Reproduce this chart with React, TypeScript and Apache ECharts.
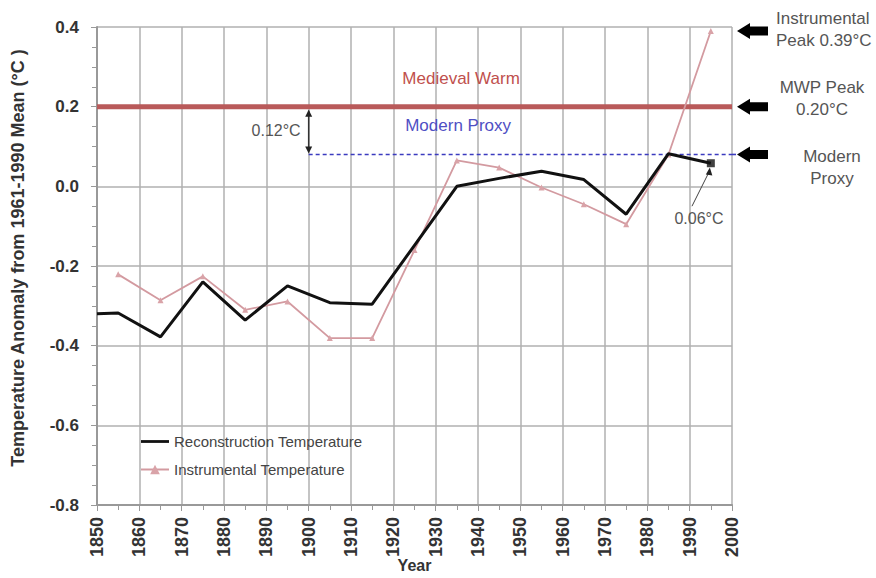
import React, { useEffect, useRef } from "react";
import * as echarts from "echarts";

const reconYears = [1850, 1855, 1865, 1875, 1885, 1895, 1905, 1915, 1925, 1935, 1945, 1955, 1965, 1975, 1985, 1995];
const reconValues = [-0.32, -0.318, -0.378, -0.24, -0.336, -0.25, -0.292, -0.296, -0.148, 0.0, 0.02, 0.038, 0.017, -0.07, 0.082, 0.058];
const instYears = [1855, 1865, 1875, 1885, 1895, 1905, 1915, 1925, 1935, 1945, 1955, 1965, 1975, 1985, 1995];
const instValues = [-0.221, -0.286, -0.226, -0.31, -0.289, -0.381, -0.381, -0.16, 0.065, 0.047, -0.003, -0.045, -0.095, 0.08, 0.39];

const xMin = 1850;
const xMax = 2000;
const xStep = 10;
const yMin = -0.8;
const yMax = 0.4;
const yStep = 0.2;

const mwpPeak = 0.2;
const modernProxy = 0.08;
const instPeak = 0.39;
const modernEnd = 0.06;
const proxyStartYear = 1900;

const FONT = "'Liberation Sans', Arial, sans-serif";

export default function App() {
  const ref = useRef<HTMLDivElement>(null);
  useEffect(() => {
    const chart = echarts.init(ref.current!, null, { renderer: "svg" });
    chart.setOption({
      animation: false,
      backgroundColor: "#ffffff",
      grid: { left: 97, right: 144, top: 27, bottom: 73, outerBoundsMode: "none", containLabel: false },
      legend: {
        orient: "vertical",
        left: 135,
        top: 429,
        itemWidth: 28,
        itemHeight: 12,
        itemGap: 13,
        textStyle: { fontSize: 15, color: "#444", fontFamily: FONT },
        data: [
          { name: "Reconstruction Temperature", icon: "path://M0 0H30V3H0Z" },
          { name: "Instrumental Temperature" },
        ],
      },
      xAxis: {
        type: "value",
        min: xMin,
        max: xMax,
        interval: xStep,
        name: "Year",
        nameLocation: "middle",
        nameGap: 52,
        nameMoveOverlap: false,
        nameTextStyle: { fontSize: 16, fontWeight: "bold", color: "#333", fontFamily: FONT },
        axisLine: { show: true, onZero: false, lineStyle: { color: "#999", width: 2 } },
        axisTick: { show: true, length: 6, lineStyle: { color: "#999" } },
        minorTick: { show: true, splitNumber: 2, length: 5, lineStyle: { color: "#999" } },
        splitLine: { show: true, lineStyle: { color: "#b0b0b0", width: 1.5 } },
        axisLabel: {
          rotate: 90,
          margin: 12,
          fontSize: 18,
          fontWeight: "bold",
          color: "#333",
          fontFamily: FONT,
          formatter: (v: number) => String(v),
        },
      },
      yAxis: {
        type: "value",
        min: yMin,
        max: yMax,
        interval: yStep,
        axisLine: { show: true, onZero: false, lineStyle: { color: "#999", width: 2 } },
        axisTick: { show: true, length: 6, lineStyle: { color: "#999" } },
        minorTick: { show: true, splitNumber: 4, length: 5, lineStyle: { color: "#999" } },
        splitLine: { show: true, lineStyle: { color: "#b0b0b0", width: 1.5 } },
        axisLabel: {
          margin: 18,
          fontSize: 17,
          fontWeight: "bold",
          color: "#333",
          fontFamily: FONT,
          formatter: (v: number) => v.toFixed(1),
        },
      },
      series: [
        {
          name: "MWP",
          type: "line",
          data: [[xMin, mwpPeak], [xMax, mwpPeak]],
          symbol: "none",
          silent: true,
          lineStyle: { color: "#b95a5a", width: 5 },
          z: 1,
        },
        {
          name: "Modern Proxy Line",
          type: "line",
          data: [[proxyStartYear, modernProxy], [xMax, modernProxy]],
          symbol: "none",
          silent: true,
          lineStyle: { color: "#3b3bbf", width: 1.6, type: [4, 3] },
          z: 1,
        },
        {
          name: "Instrumental Temperature",
          type: "line",
          data: instYears.map((y, i) => [y, instValues[i]]),
          symbol: "triangle",
          symbolSize: 6,
          itemStyle: { color: "#d9a3a8" },
          lineStyle: { color: "#d39aa0", width: 1.8 },
          z: 2,
        },
        {
          name: "Reconstruction Temperature",
          type: "line",
          data: reconYears.map((y, i) => [y, reconValues[i]]),
          symbol: "none",
          itemStyle: { color: "#111" },
          lineStyle: { color: "#111", width: 3 },
          z: 3,
        },
        {
          name: "end",
          type: "scatter",
          data: [[reconYears[reconYears.length - 1], reconValues[reconValues.length - 1]]],
          symbol: "rect",
          symbolSize: 8,
          itemStyle: { color: "#111" },
          z: 4,
        },
      ],
    });

    const px = (x: number, y: number) => chart.convertToPixel({ gridIndex: 0 }, [x, y]) as number[];
    const g: any[] = [];
    const txt = (x: number, y: number, text: string, opts: any = {}) => ({
      type: "text",
      x,
      y,
      style: {
        text,
        fontSize: 17,
        fontFamily: FONT,
        fill: "#555",
        align: "center",
        verticalAlign: "middle",
        ...opts,
      },
      z: 10,
    });

    const mw = px(1936, 0.27);
    g.push(txt(mw[0], mw[1], "Medieval Warm", { fill: "#c0504d" }));
    const mp = px(1935.3, 0.153);
    g.push(txt(mp[0], mp[1], "Modern Proxy", { fill: "#4f4fc4" }));

    // 0.12 arrow
    const a1 = px(proxyStartYear, mwpPeak);
    const a2 = px(proxyStartYear, modernProxy);
    const ax = a1[0];
    g.push({ type: "line", shape: { x1: ax, y1: a1[1] + 4, x2: ax, y2: a2[1] - 4 }, style: { stroke: "#333", lineWidth: 1.5 }, z: 10 });
    g.push({ type: "polygon", shape: { points: [[ax, a1[1] + 3], [ax - 3.5, a1[1] + 10], [ax + 3.5, a1[1] + 10]] }, style: { fill: "#222" }, z: 10 });
    g.push({ type: "polygon", shape: { points: [[ax, a2[1] - 1], [ax - 3.5, a2[1] - 8], [ax + 3.5, a2[1] - 8]] }, style: { fill: "#222" }, z: 10 });
    g.push(txt(ax - 8, (a1[1] + a2[1]) / 2, "0.12°C", { align: "right", fontSize: 16 }));

    // extension of modern proxy dashed line to arrow
    const pe = px(xMax, modernProxy);
    g.push({ type: "line", shape: { x1: pe[0], y1: pe[1], x2: pe[0] + 5, y2: pe[1] }, style: { stroke: "#3b3bbf", lineWidth: 1.6, lineDash: [4, 3] }, z: 10 });

    // 0.06 annotation
    const endPt = px(reconYears[reconYears.length - 1], modernEnd);
    const lbl = px(1992.2, -0.08);
    g.push(txt(lbl[0], lbl[1], "0.06°C", { fontSize: 16 }));
    g.push({ type: "line", shape: { x1: lbl[0] - 7, y1: lbl[1] - 12, x2: endPt[0] - 2, y2: endPt[1] + 10 }, style: { stroke: "#444", lineWidth: 1 }, z: 10 });
    g.push({ type: "polygon", shape: { points: [[endPt[0] - 1, endPt[1] + 5], [endPt[0] - 5, endPt[1] + 12], [endPt[0] + 1.5, endPt[1] + 13]] }, style: { fill: "#222" }, z: 10 });

    // right arrows
    const arrow = (yy: number) => ({
      type: "polygon",
      shape: {
        points: [[737, yy], [750, yy - 8], [750, yy - 4.5], [768, yy - 4.5], [768, yy + 4.5], [750, yy + 4.5], [750, yy + 8]],
      },
      style: { fill: "#000" },
      z: 10,
    });
    const yInst = px(xMax, instPeak)[1];
    const yMwp = px(xMax, mwpPeak)[1];
    const yMod = px(xMax, modernProxy)[1];
    g.push(arrow(yInst));
    g.push(arrow(yMwp));
    g.push(arrow(yMod));
    g.push(txt(776, yInst - 12, "Instrumental", { align: "left", fontSize: 17 }));
    g.push(txt(776, yInst + 10, "Peak 0.39°C", { align: "left", fontSize: 17 }));
    g.push(txt(822, yMwp - 19, "MWP Peak", { fontSize: 17 }));
    g.push(txt(822, yMwp + 3, "0.20°C", { fontSize: 17 }));
    g.push(txt(832, yMod + 2, "Modern", { fontSize: 17 }));
    g.push(txt(832, yMod + 24, "Proxy", { fontSize: 17 }));

    // y axis title
    g.push({
      type: "text",
      x: 18,
      y: 258,
      rotation: Math.PI / 2,
      style: {
        text: "Temperature Anomaly from 1961-1990 Mean (°C )",
        fontSize: 18,
        fontWeight: "bold",
        fontFamily: FONT,
        fill: "#333",
        align: "center",
        verticalAlign: "middle",
      },
      z: 10,
    });

    chart.setOption({ graphic: g });
    return () => chart.dispose();
  }, []);
  return <div ref={ref} style={{ position: "fixed", left: 0, top: 0, width: 876, height: 578 }} />;
}
